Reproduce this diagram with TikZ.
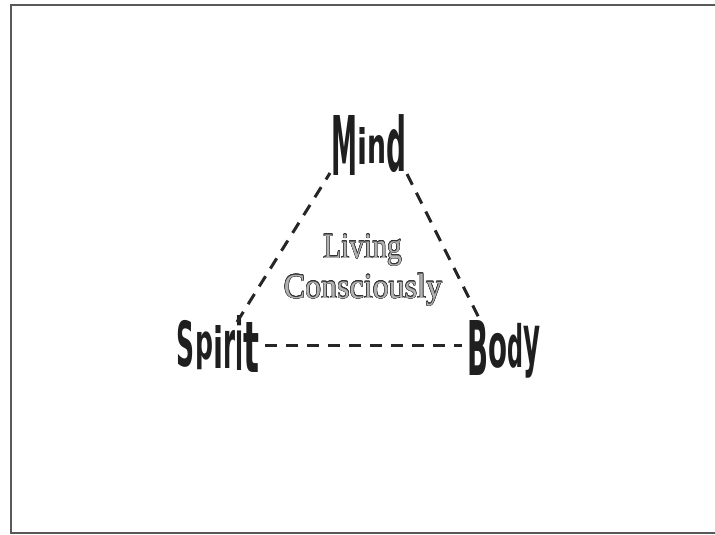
\documentclass[tikz,border=0pt]{standalone}
\usepackage{fontspec}
\usepackage{graphicx}
\usepackage[copies]{contour}
\setmainfont{Liberation Serif}
\newfontfamily\impfont{DejaVu Sans}
\newsavebox\lbox
% warped letter: width, height, vertical offset (down), glyph
\newcommand\wl[4]{\sbox\lbox{\resizebox*{#1pt}{#2pt}{\impfont\bfseries #4}}\raisebox{\dimexpr -#3pt - (\ht\lbox - \dp\lbox)/2\relax}{\usebox\lbox}}
\contourlength{0.45pt}
\begin{document}
\begin{tikzpicture}[x=1pt,y=1pt,
  word/.style={inner sep=0pt, outer sep=0pt, text=black!88},
  motto/.style={inner sep=0pt, font=\fontsize{32pt}{36pt}\selectfont},
  link/.style={line width=3pt, black!85, dash pattern=on 12pt off 9pt},
  frame/.style={line width=1.5pt, black!65}]
\useasboundingbox (0,0) rectangle (715,-535);
\draw[frame] (716,-5) -- (11,-5) -- (11,-533) -- (716,-533);

\node[word, anchor=base] (mind) at (369,-145)
  {\wl{26}{60}{0}{M}\wl{10}{37}{1.5}{i}\wl{19}{28}{4}{n}\wl{20}{58}{-1}{d}};
\node[word, anchor=base] (spirit) at (218,-344)
  {\wl{18}{47}{-0.5}{S}\wl{18}{38}{7}{p}\wl{10}{43}{2.5}{i}\wl{12}{38}{5}{r}\wl{8}{55}{-1.5}{i}\wl{16}{50}{3}{t}};
\node[word, anchor=base] (body) at (503.5,-348)
  {\wl{21}{55}{-0.5}{B}\wl{19}{35}{2.5}{o}\wl{16}{45}{-2.5}{d}\wl{17}{52}{4}{y}};

\node[motto, anchor=base] (living) at (362.5,-258)
  {\scalebox{0.92}[1.12]{\contour{black!80}{\textcolor{black!30}{Living}}}};
\node[motto, anchor=base] (consc) at (363,-298)
  {\scalebox{1}[1.1]{\contour{black!80}{\textcolor{black!30}{Consciously}}}};

\coordinate (sTop) at (237,-322);
\coordinate (mLeft) at (330,-173);
\coordinate (mRight) at (407,-174);
\coordinate (bTop) at (480,-320);
\coordinate (sRight) at (265,-345);
\coordinate (bLeft) at (462,-345);

\draw[link] (sTop) -- (mLeft);
\draw[link] (mRight) -- (bTop);
\draw[link] (sRight) -- (bLeft);
\end{tikzpicture}
\end{document}
